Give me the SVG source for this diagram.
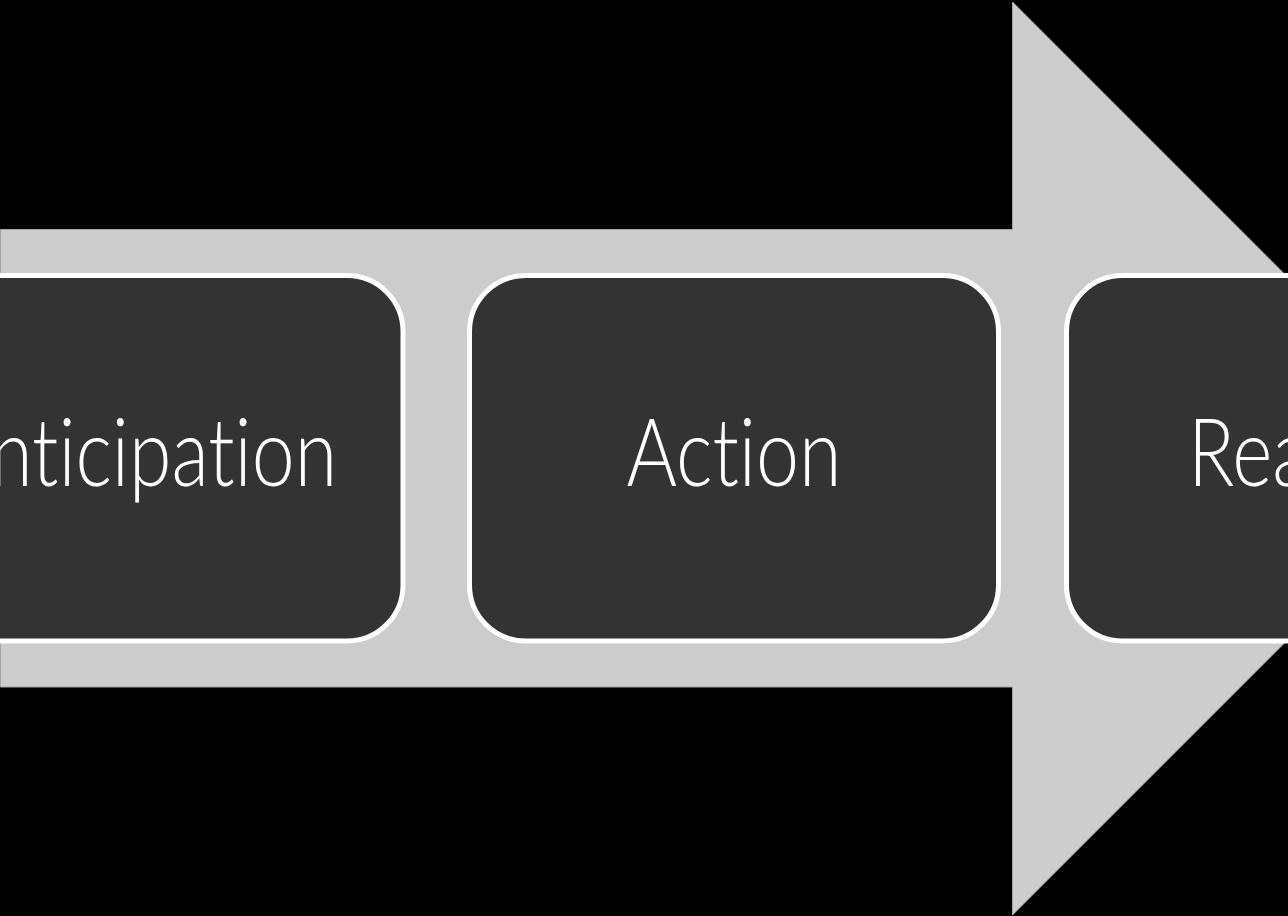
<svg xmlns="http://www.w3.org/2000/svg" width="1288" height="916" viewBox="0 0 1288 916">
  <style>
    .box { fill: #333333; stroke: #ffffff; stroke-width: 5; }
    .lbl { fill: #ffffff; font-family: "Lato", "Liberation Sans", sans-serif; font-weight: 300; font-size: 94px; text-anchor: middle; font-variant-ligatures: none; font-feature-settings: "liga" 0; }
  </style>
  <rect x="0" y="0" width="1288" height="916" fill="#000000"/>
  <g id="connectors">
    <path id="arrow" d="M0.5,229.5 H1012.5 V2 L1469,458.5 L1012.5,915 V687 H0.5 Z" fill="#cccccc" stroke="#a6a6a6" stroke-width="1"/>
  </g>
  <g id="node-anticipation">
    <rect class="box" x="-126" y="275.5" width="529" height="365.5" rx="56" ry="56"/>
    <text class="lbl" x="138.5" y="486" textLength="397" lengthAdjust="spacingAndGlyphs">Anticipation</text>
  </g>
  <g id="node-action">
    <rect class="box" x="469.5" y="275.5" width="529" height="365.5" rx="56" ry="56"/>
    <text class="lbl" x="734" y="486" textLength="215" lengthAdjust="spacingAndGlyphs">Action</text>
  </g>
  <g id="node-reaction">
    <rect class="box" x="1066.5" y="275.5" width="529" height="365.5" rx="56" ry="56"/>
    <text class="lbl" x="1331" y="486" textLength="286" lengthAdjust="spacingAndGlyphs">Reaction</text>
  </g>
</svg>
